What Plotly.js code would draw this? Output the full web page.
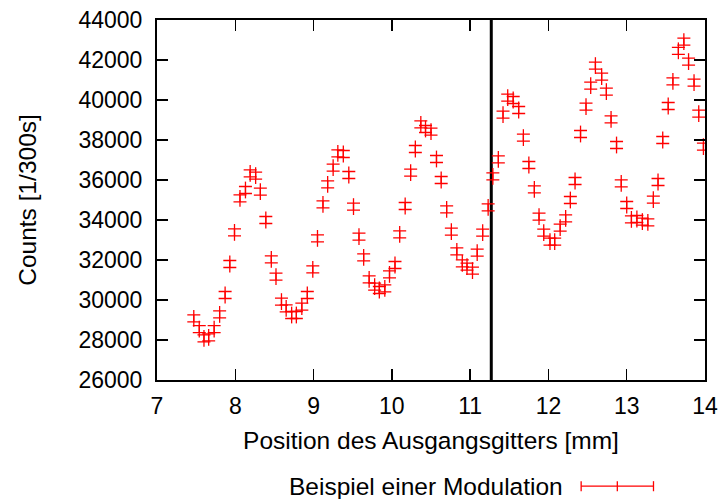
<!DOCTYPE html>
<html>
<head>
<meta charset="utf-8">
<script src="https://cdn.plot.ly/plotly-3.0.1.min.js"></script>
<style>html,body{margin:0;padding:0;background:#fff;}#chart{width:726px;height:499px;}</style>
</head>
<body>
<div id="chart"></div>
<script>
// Position des Ausgangsgitters [mm]
const positions = [
  7.47, 7.54, 7.60, 7.66, 7.73, 7.80, 7.87, 7.93, 7.99, 8.06,
  8.13, 8.19, 8.26, 8.32, 8.39, 8.46, 8.52, 8.59, 8.65, 8.72,
  8.78, 8.85, 8.92, 8.99, 9.05, 9.12, 9.18, 9.25, 9.31, 9.38,
  9.45, 9.51, 9.58, 9.64, 9.71, 9.78, 9.84, 9.91, 9.97, 10.04,
  10.10, 10.17, 10.24, 10.30, 10.37, 10.43, 10.50, 10.57, 10.63, 10.70,
  10.76, 10.83, 10.90, 10.96, 11.03, 11.09, 11.16, 11.23, 11.29, 11.36,
  11.42, 11.48, 11.55, 11.62, 11.68, 11.75, 11.82, 11.88, 11.94, 12.02,
  12.08, 12.15, 12.22, 12.28, 12.34, 12.41, 12.48, 12.54, 12.60, 12.68,
  12.74, 12.80, 12.87, 12.93, 13.00, 13.06, 13.13, 13.20, 13.27, 13.34,
  13.40, 13.46, 13.53, 13.59, 13.66, 13.73, 13.79, 13.86, 13.92, 13.98
];
// Counts [1/300s]
const counts = [
  29080, 28540, 28080, 28130, 28540, 29280, 30250, 31800, 33380, 35080,
  35500, 36330, 36220, 35420, 34000, 32030, 31170, 29920, 29580, 29250,
  29250, 29670, 30250, 31530, 33080, 34780, 35780, 36620, 37330, 37300,
  36250, 34670, 33170, 32130, 31030, 30670, 30500, 30580, 31280, 31750,
  33280, 34700, 36370, 37550, 38780, 38550, 38420, 37050, 36000, 34530,
  33420, 32430, 31830, 31670, 31470, 32370, 33370, 34630, 36180, 37030,
  39270, 40120, 40000, 39500, 38120, 36750, 35530, 34170, 33370, 32920,
  32920, 33620, 34080, 35000, 35950, 38300, 39670, 40720, 41720, 41170,
  40420, 39030, 37750, 35830, 34750, 34030, 34050, 33920, 33880, 35020,
  35900, 38000, 39700, 40930, 42460, 42920, 41920, 40870, 39320, 37670
];
// Vertical marker line (position of the grating)
const markerLineX = [11.27, 11.27];
const markerLineY = [26000, 44000];

const seriesName = 'Beispiel einer Modulation';
const xTitle = 'Position des Ausgangsgitters [mm]';
const yTitle = 'Counts [1/300s]';
const xTicks = [7, 8, 9, 10, 11, 12, 13, 14];
const yTicks = [26000, 28000, 30000, 32000, 34000, 36000, 38000, 40000, 42000, 44000];

const FONT = 'Liberation Sans, Arial, sans-serif';
const TICK_SIZE = 23;
const TEXT_SIZE = 24.5;

const traces = [
  {
    x: markerLineX, y: markerLineY, mode: 'lines', type: 'scatter',
    line: {color: '#000', width: 3}, showlegend: false, hoverinfo: 'skip'
  },
  {
    x: positions, y: counts, mode: 'markers', type: 'scatter', name: seriesName,
    marker: {symbol: 'line-ns-open', size: 12, color: '#ff0000', line: {color: '#ff0000', width: 1.3}},
    error_y: {type: 'constant', value: 175, color: '#ff0000', thickness: 1.3, width: 6.5},
    showlegend: false
  }
];

// legend sample geometry (paper coords)
const ly = -0.295;
const lx0 = 0.774, lx1 = 0.906, lxm = 0.84, capH = 0.014;

const layout = {
  width: 726, height: 499,
  margin: {l: 157, r: 21, t: 20, b: 119},
  paper_bgcolor: '#fff', plot_bgcolor: '#fff',
  font: {family: FONT, size: TICK_SIZE, color: '#000'},
  showlegend: false,
  xaxis: {
    range: [7, 14], tickvals: xTicks, ticktext: xTicks.map(String),
    ticks: 'inside', ticklen: 11, tickwidth: 1.5, tickcolor: '#000',
    showline: true, linewidth: 2, linecolor: '#000', mirror: 'allticks',
    showgrid: false, zeroline: false, ticklabelstandoff: 4,
    tickfont: {family: FONT, size: TICK_SIZE, color: '#000'},
    title: {text: xTitle, font: {family: FONT, size: TEXT_SIZE, color: '#000'}, standoff: 14}
  },
  yaxis: {
    range: [26000, 44000], tickvals: yTicks, ticktext: yTicks.map(String),
    ticks: 'inside', ticklen: 11, tickwidth: 1.5, tickcolor: '#000',
    showline: true, linewidth: 2, linecolor: '#000', mirror: 'allticks',
    showgrid: false, zeroline: false, ticklabelstandoff: 8,
    tickfont: {family: FONT, size: TICK_SIZE, color: '#000'},
    title: {text: yTitle, font: {family: FONT, size: TEXT_SIZE, color: '#000'}, standoff: 35}
  },
  annotations: [
    {xref: 'paper', yref: 'paper', x: 0.745, y: ly, xanchor: 'right', yanchor: 'middle',
     text: seriesName, showarrow: false, font: {family: FONT, size: TEXT_SIZE, color: '#000'}}
  ],
  shapes: [
    {type: 'line', xref: 'paper', yref: 'paper', x0: lx0, x1: lx1, y0: ly, y1: ly, line: {color: '#ff0000', width: 1.3}},
    {type: 'line', xref: 'paper', yref: 'paper', x0: lx0, x1: lx0, y0: ly - capH, y1: ly + capH, line: {color: '#ff0000', width: 1.3}},
    {type: 'line', xref: 'paper', yref: 'paper', x0: lx1, x1: lx1, y0: ly - capH, y1: ly + capH, line: {color: '#ff0000', width: 1.3}},
    {type: 'line', xref: 'paper', yref: 'paper', x0: lxm, x1: lxm, y0: ly - capH, y1: ly + capH, line: {color: '#ff0000', width: 1.3}}
  ]
};

Plotly.newPlot('chart', traces, layout, {staticPlot: true, displayModeBar: false});
</script>
</body>
</html>
